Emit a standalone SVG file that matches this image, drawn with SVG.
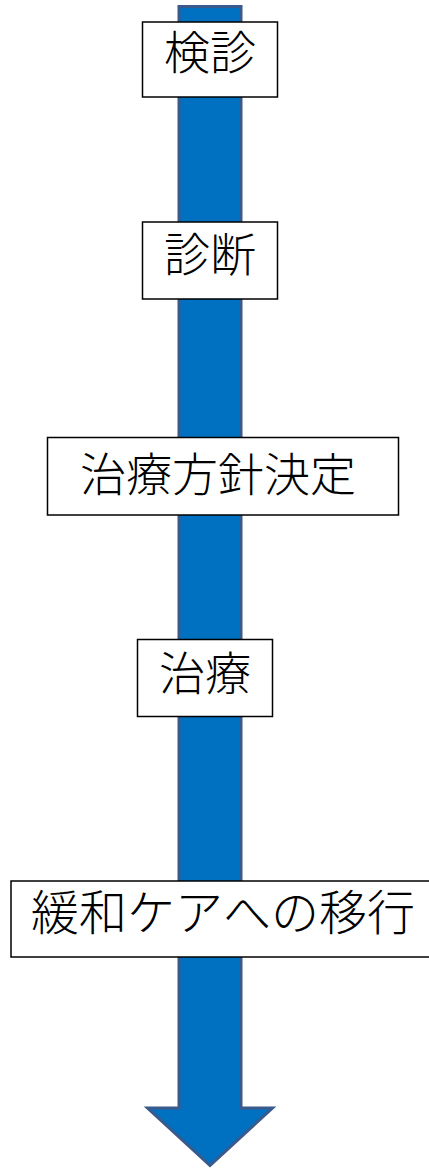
<svg xmlns="http://www.w3.org/2000/svg" width="429" height="1169" viewBox="0 0 429 1169">
<style>
.box{fill:#fff;stroke:#000;stroke-width:1.5}
.lbl{font-family:"Noto Sans CJK JP","Noto Sans",sans-serif;font-size:46px;font-weight:300;fill:#000;text-anchor:middle}
.wide{font-size:48px}
</style>
<rect width="429" height="1169" fill="#fff"/>
<g id="connectors">
<polygon points="179,6.5 241,6.5 241,1108 272.5,1108 210,1165.5 147.5,1108 179,1108" fill="#0070C0" stroke="#3A5A8C" stroke-width="3" stroke-linejoin="miter"/>
</g>
<g id="node1"><rect class="box" x="142.5" y="22" width="135" height="75"/><text class="lbl" x="210" y="69">検診</text></g>
<g id="node2"><rect class="box" x="142.5" y="222" width="135" height="77"/><text class="lbl" x="210" y="271">診断</text></g>
<g id="node3"><rect class="box" x="47.5" y="437.5" width="351" height="77.5"/><text class="lbl" x="218" y="491">治療方針決定</text></g>
<g id="node4"><rect class="box" x="137.5" y="639.5" width="135" height="77"/><text class="lbl" x="205" y="690">治療</text></g>
<g id="node5"><rect class="box" x="11" y="881" width="430" height="76"/><text class="lbl wide" x="223" y="930">緩和ケアへの移行</text></g>
</svg>
